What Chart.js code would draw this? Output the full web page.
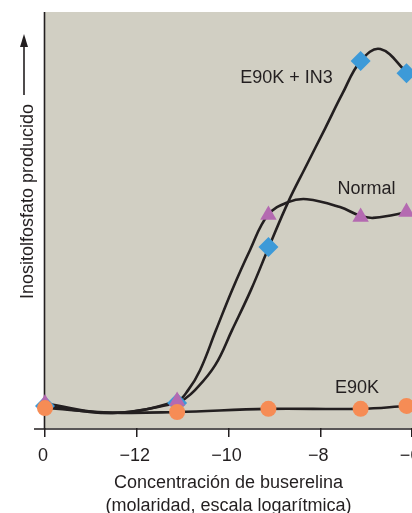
<!DOCTYPE html>
<html>
<head>
<meta charset="utf-8">
<script src="https://cdn.jsdelivr.net/npm/chart.js@4.4.1/dist/chart.umd.min.js"></script>
<style>
  html, body { margin: 0; padding: 0; background: #ffffff; }
  #wrap { width: 412px; height: 513px; position: relative; }
</style>
</head>
<body>
<div id="wrap"><canvas id="c"></canvas></div>
<script>
// ---- Data (x: log molar concentration, position -14 is the "0" control; y: arbitrary units 0-100) ----
const tickValues = [-14, -12, -10, -8, -6];
const tickLabels = ['0', '\u221212', '\u221210', '\u22128', '\u22126'];

const markerX = [-14, -11.12, -9.13, -7.12, -6.12];
const e90kIn3Y = [5.3, 6.0, 43.5, 88.2, 85.3];
const normalY  = [5.9, 6.5, 51.2, 50.7, 51.9];
const e90kY    = [4.8, 3.85, 4.6, 4.6, 5.3];

// fitted curves
const e90kIn3CurveX = [-14, -12.52, -11.12, -10.99, -10.73, -10.29, -9.92, -9.51, -9.12, -8.70, -8.33, -7.89, -7.52, -7.12, -6.69, -6.10];
const e90kIn3CurveY = [5.3, 3.6, 6.0, 6.7, 9.1, 15.1, 23.6, 33.2, 43.5, 54.3, 62.5, 72.1, 80.3, 88.2, 91.1, 85.3];

const normalCurveX = [-14, -12.52, -11.12, -10.88, -10.62, -10.27, -9.92, -9.53, -9.14, -8.70, -8.29, -7.57, -7.13, -6.85, -6.41, -6.12];
const normalCurveY = [5.9, 3.6, 6.5, 9.1, 13.9, 23.6, 33.2, 42.8, 51.2, 54.3, 55.0, 53.1, 51.0, 50.5, 51.2, 51.9];

const e90kCurveX = [-14, -12.52, -11.12, -9.14, -7.13, -6.12];
const e90kCurveY = [4.8, 3.7, 3.85, 4.6, 4.6, 5.3];

const seriesLabels = ['E90K + IN3', 'Normal', 'E90K'];
const xTitle = ['Concentraci\u00f3n de buserelina', '(molaridad, escala logar\u00edtmica)'];
const yTitle = 'Inositolfosfato producido';

// ---- helpers ----
const zip = (xs, ys) => xs.map((x, i) => ({ x: x, y: ys[i] }));
const INK = '#231f20';
const FONT = '"Liberation Sans", Arial, Helvetica, sans-serif';

const decor = {
  id: 'decor',
  beforeDatasetsDraw(chart) {
    const { ctx, chartArea: a } = chart;
    ctx.save();
    ctx.fillStyle = '#d1cfc3';
    ctx.fillRect(a.left, a.top, a.right - a.left, a.bottom - a.top);
    ctx.strokeStyle = INK;
    ctx.lineWidth = 1.6;
    ctx.beginPath();
    ctx.moveTo(a.left - 0.5, a.top);
    ctx.lineTo(a.left - 0.5, a.bottom + 1);
    ctx.moveTo(a.left - 11, a.bottom + 1);
    ctx.lineTo(a.right, a.bottom + 1);
    ctx.stroke();
    ctx.restore();
  },
  afterDraw(chart) {
    const { ctx, chartArea: a } = chart;
    ctx.save();
    ctx.fillStyle = INK;
    ctx.font = '18px ' + FONT;
    ctx.textAlign = 'center';
    ctx.textBaseline = 'alphabetic';
    // series labels
    ctx.fillText(seriesLabels[0], 286.5, 83);
    ctx.fillText(seriesLabels[1], 366.5, 194);
    ctx.fillText(seriesLabels[2], 357, 393);
    // x title
    const cx = (a.left + a.right) / 2;
    ctx.fillText(xTitle[0], cx, 488);
    ctx.fillText(xTitle[1], cx, 511);
    // y title
    ctx.save();
    ctx.translate(32.5, 201.5);
    ctx.rotate(-Math.PI / 2);
    ctx.fillText(yTitle, 0, 0);
    ctx.restore();
    // arrow
    ctx.strokeStyle = INK;
    ctx.lineWidth = 1.6;
    ctx.beginPath();
    ctx.moveTo(24, 95);
    ctx.lineTo(24, 44);
    ctx.stroke();
    ctx.beginPath();
    ctx.moveTo(24, 34);
    ctx.lineTo(20, 47);
    ctx.lineTo(28, 47);
    ctx.closePath();
    ctx.fill();
    ctx.restore();
  }
};

const lineDs = (xs, ys, order) => ({
  data: zip(xs, ys),
  showLine: true,
  borderColor: INK,
  borderWidth: 2.6,
  pointRadius: 0,
  pointHoverRadius: 0,
  tension: 0.4,
  fill: false,
  clip: false,
  order: order
});

const markerDs = (ys, style, radius, color, order) => ({
  data: zip(markerX, ys),
  showLine: false,
  pointStyle: style,
  pointRadius: radius,
  pointHoverRadius: radius,
  pointBackgroundColor: color,
  pointBorderWidth: 0,
  pointBorderColor: color,
  clip: false,
  order: order
});

new Chart(document.getElementById('c'), {
  type: 'scatter',
  data: {
    datasets: [
      markerDs(e90kY, 'circle', 8, '#f68c55', 0),
      markerDs(normalY, 'triangle', 9.5, '#b46ab1', 1),
      markerDs(e90kIn3Y, 'rectRot', 10, '#3d9ad8', 2),
      lineDs(e90kCurveX, e90kCurveY, 3),
      lineDs(normalCurveX, normalCurveY, 4),
      lineDs(e90kIn3CurveX, e90kIn3CurveY, 5)
    ]
  },
  options: {
    responsive: true,
    maintainAspectRatio: false,
    animation: false,
    devicePixelRatio: 1,
    layout: { autoPadding: false, padding: { left: 45, top: 12, right: 0, bottom: 0 } },
    plugins: { legend: { display: false }, tooltip: { enabled: false } },
    events: [],
    scales: {
      x: {
        type: 'linear',
        min: -14,
        max: -6,
        afterBuildTicks: (s) => { s.ticks = tickValues.map(v => ({ value: v })); },
        afterFit: (s) => { s.height = 85; s.paddingLeft = 0; s.paddingRight = 0; },
        ticks: {
          autoSkip: false,
          maxRotation: 0,
          padding: 8,
          labelOffset: -2,
          color: INK,
          font: { family: FONT, size: 18 },
          callback: (v) => { const i = tickValues.indexOf(v); return i >= 0 ? tickLabels[i] : ''; }
        },
        grid: { drawOnChartArea: false, drawTicks: true, tickLength: 9, color: INK, lineWidth: 1.5 },
        border: { display: false }
      },
      y: {
        type: 'linear',
        min: 0,
        max: 100,
        display: false
      }
    }
  },
  plugins: [decor]
});
</script>
</body>
</html>
